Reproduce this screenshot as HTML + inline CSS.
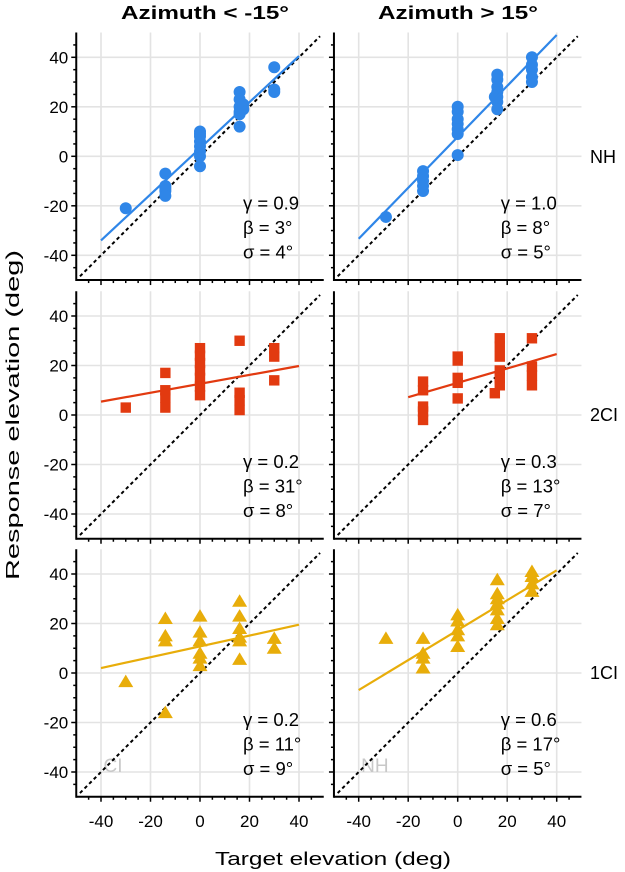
<!DOCTYPE html>
<html><head><meta charset="utf-8">
<style>
html,body{margin:0;padding:0;background:#fff;}
svg{display:block;font-family:"Liberation Sans",Arial,sans-serif;}
</style></head>
<body>
<svg id="chart" width="625" height="872" viewBox="0 0 625 872" xmlns="http://www.w3.org/2000/svg">
<text x="205" y="19" font-size="18" font-weight="bold" text-anchor="middle" textLength="168" lengthAdjust="spacingAndGlyphs">Azimuth &lt; -15°</text>
<text x="458" y="19" font-size="18" font-weight="bold" text-anchor="middle" textLength="160" lengthAdjust="spacingAndGlyphs">Azimuth &gt; 15°</text>
<text x="590" y="163" font-size="18">NH</text>
<text x="590" y="421" font-size="18">2CI</text>
<text x="590" y="679" font-size="18">1CI</text>
<text x="0" y="0" font-size="18" text-anchor="middle" transform="translate(19,415) rotate(-90)" textLength="330" lengthAdjust="spacingAndGlyphs">Response elevation (deg)</text>
<text x="333" y="865" font-size="18" text-anchor="middle" textLength="236" lengthAdjust="spacingAndGlyphs">Target elevation (deg)</text>
<g id="plots"></g>
</svg>
<script>
// ---- data ----
const ticks = [-40, -20, 0, 20, 40];
const tickLabels = ["-40", "-20", "0", "20", "40"];
// NH, azimuth < -15
const nhLeftX = [-30, -14, -14, -14, -14, -14, 0, 0, 0, 0, 0, 0, 0, 0, 16, 16, 16, 16, 16, 16, 17.5, 17.5, 30, 30, 30];
const nhLeftY = [-21, -7, -12, -13, -14, -16, -4, 0, 2, 4, 6, 8, 9, 10, 26, 23, 20, 18, 17, 12, 19, 21, 36, 27, 26];
// NH, azimuth > 15
const nhRightX = [-29, -14, -14, -14, -14, -14, 0, 0, 0, 0, 0, 0, 0, 16, 16, 16, 16, 16, 16, 16, 15, 30, 30, 30, 30, 30];
const nhRightY = [-24.5, -6, -8, -10, -12, -14, 20, 18, 15, 13, 11, 9, 0.5, 33, 31, 28, 26, 24, 22, 19, 24, 40, 37, 35, 32, 30];
// 2CI, azimuth < -15
const ci2LeftX = [-30, -14, -14, -14, -14, 0, 0, 0, 0, 0, 0, 0, 16, 16, 16, 16, 30, 30, 30];
const ci2LeftY = [3, 17, 10, 7, 3, 27, 24, 21, 18, 15, 11.5, 8, 30, 9, 6, 2, 27, 23.6, 14];
// 2CI, azimuth > 15
const ci2RightX = [-14, -14, -14, -14, -14, 0, 0, 0, 0, 0, 17, 17, 17, 17, 17, 17, 15, 30, 30, 30, 30];
const ci2RightY = [13.5, 10, 3.4, 1.4, -2, 23.6, 22, 15, 13, 6.7, 31, 27.7, 23.6, 18, 15, 12, 8.8, 31, 19.6, 16, 12];
// 1CI, azimuth < -15
const ci1LeftX = [-30, -14, -14, -14, -14, 0, 0, 0, 0, 0, 0, 16, 16, 16, 16, 16, 16, 30, 30];
const ci1LeftY = [-3.5, 22, 15, 13, -16, 23, 16.5, 13, 8, 6, 3, 29, 23, 18, 14.5, 13, 5.5, 14, 10];
// 1CI, azimuth > 15
const ci1RightX = [-29, -14, -14, -14, -14, 0, 0, 0, 0, 0, 16, 16, 16, 16, 16, 16, 16, 30, 30, 30, 30];
const ci1RightY = [14, 14, 8, 6, 2, 23.5, 21, 17.5, 15, 10.7, 37.7, 32, 30, 28, 25.5, 22, 19.5, 41, 39, 36, 33];
// fit lines: values at start x and at x=40
const fitStartX = [-40, -40, -40, -20, -40, -40];
const fitStartY = [-34, -33.3, 5.4, 7.2, 2, -6.9];
const fitEndY = [40.5, 49, 19.8, 24.6, 19.5, 41.5];
const statGamma = ["γ = 0.9", "γ = 1.0", "γ = 0.2", "γ = 0.3", "γ = 0.2", "γ = 0.6"];
const statBeta = ["β = 3°", "β = 8°", "β = 31°", "β = 13°", "β = 11°", "β = 17°"];
const statSigma = ["σ = 4°", "σ = 5°", "σ = 8°", "σ = 7°", "σ = 9°", "σ = 5°"];

// ---- layout ----
const NS = "http://www.w3.org/2000/svg";
const K = 2.475;
const colX0 = [200, 457.7];
const rowY0 = [156.3, 415, 673];
const colors = ["#2f86e8", "#e23a10", "#e8ad0a"];
const rowNames = ["nh", "2ci", "1ci"];
const colNames = ["left", "right"];
const panels = [
  [nhLeftX, nhLeftY], [nhRightX, nhRightY],
  [ci2LeftX, ci2LeftY], [ci2RightX, ci2RightY],
  [ci1LeftX, ci1LeftY], [ci1RightX, ci1RightY]
];
const root = document.getElementById("plots");
function mk(tag, attrs, parent) {
  const e = document.createElementNS(NS, tag);
  for (const k in attrs) e.setAttribute(k, attrs[k]);
  (parent || root).appendChild(e);
  return e;
}
for (let r = 0; r < 3; r++) {
  for (let c = 0; c < 2; c++) {
    const i = r * 2 + c;
    const sx = v => colX0[c] + v * K;
    const sy = v => rowY0[r] - v * K;
    const g = mk("g", {});
    
    
    ticks.forEach(t => {
      const gl = mk("line", {x1: sx(t), x2: sx(t), y1: sy(50), y2: sy(-50), stroke: "#e3e3e3", "stroke-width": 1.6}, g);
      
      
      const gh = mk("line", {x1: sx(-50), x2: sx(50), y1: sy(t), y2: sy(t), stroke: "#e3e3e3", "stroke-width": 1.6}, g);
      
      
    });
    if (r === 2) {
      const wm = mk("text", {x: sx(-39), y: sy(-40), "font-size": 19, fill: "#c8c8c8"}, g);
      wm.textContent = c === 0 ? "CI" : "NH";
      
      
    }
    const idl = mk("line", {x1: sx(-48.5), y1: sy(-48.5), x2: sx(48.5), y2: sy(48.5), stroke: "#000", "stroke-width": 2, "stroke-dasharray": "3.5 3"}, g);
    
    
    const [xs, ys] = panels[i];
    xs.forEach((xv, j) => {
      const px = sx(xv), py = sy(ys[j]);
      let m;
      if (r === 0) m = mk("circle", {cx: px, cy: py, r: 6, fill: colors[r]}, g);
      else if (r === 1) m = mk("rect", {x: px - 5.2, y: py - 5.2, width: 10.4, height: 10.4, fill: colors[r]}, g);
      else m = mk("polygon", {points: `${px},${py - 7} ${px - 7.5},${py + 5.5} ${px + 7.5},${py + 5.5}`, fill: colors[r]}, g);
      
      
    });
    const fl = mk("line", {x1: sx(fitStartX[i]), y1: sy(fitStartY[i]), x2: sx(40), y2: sy(fitEndY[i]), stroke: colors[r], "stroke-width": 2.2}, g);
    
    
    const ax = mk("line", {x1: sx(-50), y1: sy(-50), x2: sx(50), y2: sy(-50), stroke: "#000", "stroke-width": 2}, g);
    
    
    const ay = mk("line", {x1: sx(-50), y1: sy(-50) + 1, x2: sx(-50), y2: sy(50), stroke: "#000", "stroke-width": 2}, g);
    
    
    for (let t = -45; t <= 45; t += 5) {
      const major = t % 20 === 0;
      const L = major ? 5 : 3;
      const tx = mk("line", {x1: sx(t), x2: sx(t), y1: sy(-50), y2: sy(-50) + L, stroke: "#000", "stroke-width": 1.5}, g);
      
      
      const ty = mk("line", {x1: sx(-50), x2: sx(-50) - L, y1: sy(t), y2: sy(t), stroke: "#000", "stroke-width": 1.5}, g);
      
      
    }
    if (c === 0) {
      ticks.forEach((t, k) => {
        const tl = mk("text", {x: sx(-50) - 8, y: sy(t) + 6, "font-size": 17, "text-anchor": "end"}, g);
        tl.textContent = tickLabels[k];
        
        
      });
    }
    if (r === 2) {
      ticks.forEach((t, k) => {
        const tl = mk("text", {x: sx(t), y: sy(-50) + 30, "font-size": 17, "text-anchor": "middle"}, g);
        tl.textContent = tickLabels[k];
        
        
      });
    }
    [statGamma[i], statBeta[i], statSigma[i]].forEach((s, k) => {
      const st = mk("text", {x: colX0[c] + 43, y: rowY0[r] + 53 + k * 24.5, "font-size": 18.5}, g);
      st.textContent = s;
      
      
    });
  }
}
</script>
</body></html>
